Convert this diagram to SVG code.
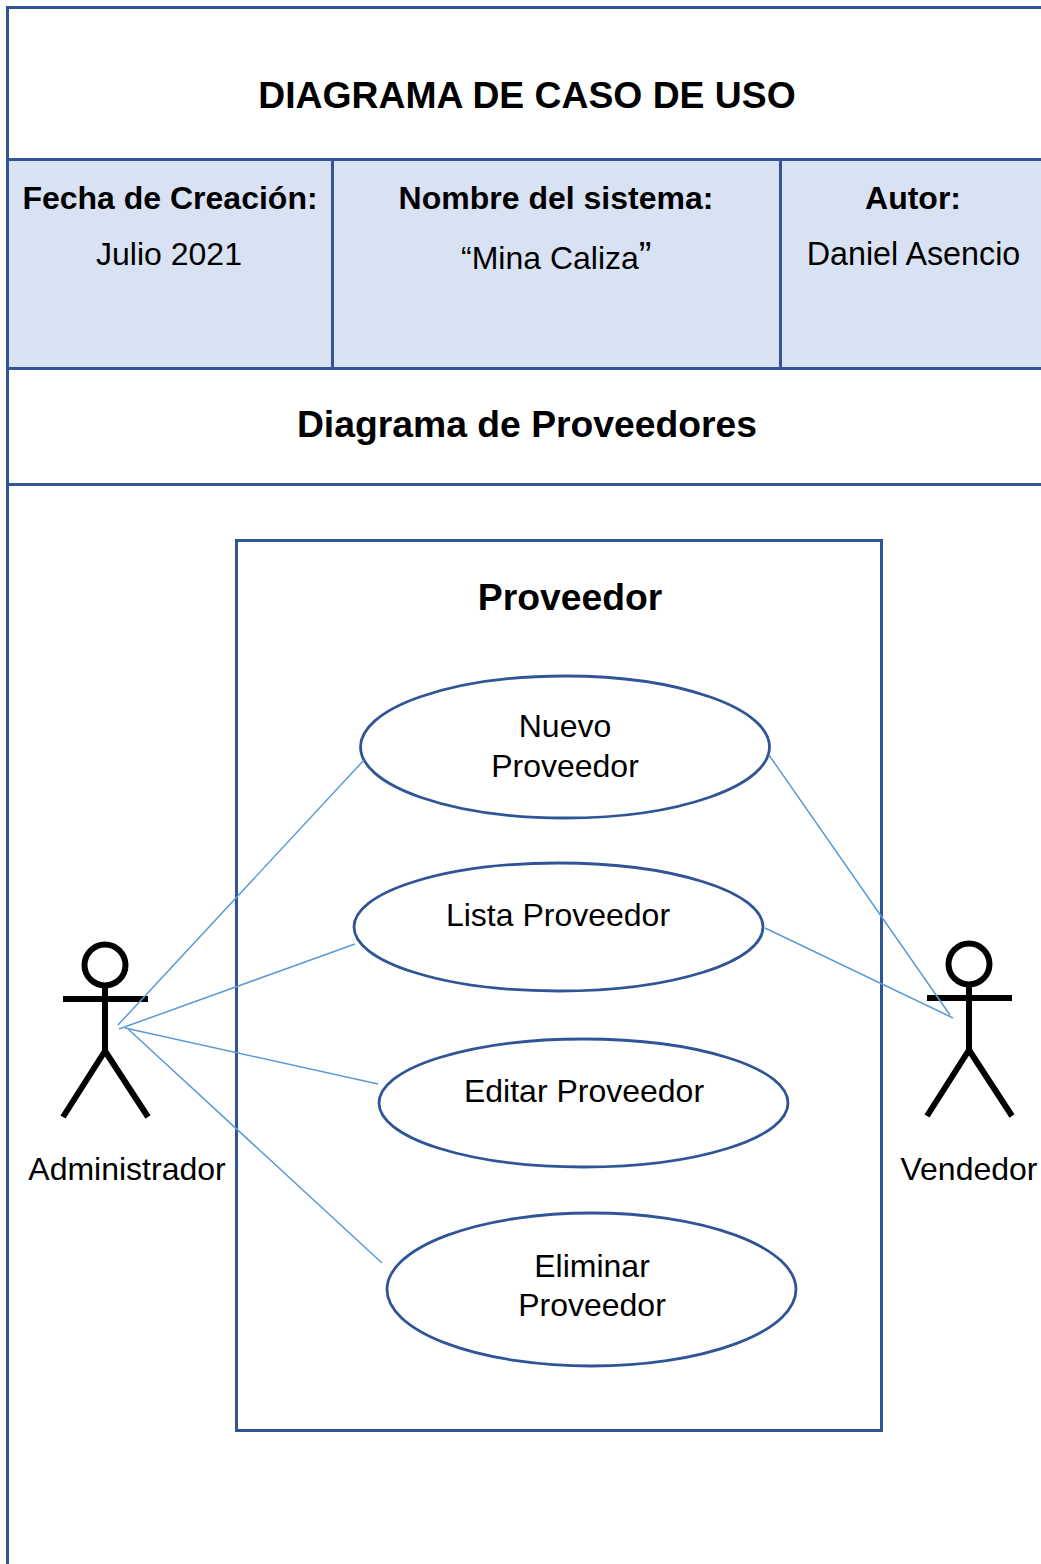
<svg xmlns="http://www.w3.org/2000/svg" width="1041" height="1564" viewBox="0 0 1041 1564">
<style>
text{font-family:"Liberation Sans",Arial,sans-serif;fill:#000;text-anchor:middle}
.t{font-size:32px}
.b{font-weight:700}
.l{font-size:32px}
.h{font-size:37.3px;font-weight:700}
.u{fill:#fff;stroke:#2F5597;stroke-width:2.8}
.g{fill:none;stroke:#2F5597;stroke-width:3}
.c{fill:none;stroke:#5B9BD5;stroke-width:1.5}
.a{fill:none;stroke:#000;stroke-width:6}
</style>
<rect width="1041" height="1564" fill="#fff"/>
<g id="table">
<rect x="8" y="160" width="1033" height="208" fill="#D9E2F3"/>
<path class="g" d="M1041 7.500H7.500V1564M7.500 159.500H1041M7.500 368.500H1041M7.500 484.500H1041M332.500 160V368M780.500 160V368"/>
<text class="h" x="527" y="108">DIAGRAMA DE CASO DE USO</text>
<text class="t b" x="170" y="209">Fecha de Creación:</text>
<text class="t" x="169" y="265">Julio 2021</text>
<text class="t b" x="556" y="209">Nombre del sistema:</text>
<text class="t" x="461" y="269" style="text-anchor:start">“Mina Caliza<tspan font-size="38">”</tspan></text>
<text class="t b" x="913" y="209">Autor:</text>
<text x="913.500" y="265" font-size="32.300">Daniel Asencio</text>
<text class="h" x="527" y="437">Diagrama de Proveedores</text>
</g>
<g id="boundary">
<rect class="g" x="236.500" y="540.500" width="645" height="890"/>
<text class="h" x="570" y="610">Proveedor</text>
</g>
<g id="uc-nuevo">
<ellipse class="u" cx="565" cy="747" rx="204.500" ry="71"/>
<text class="l" x="565" y="737">Nuevo</text>
<text class="l" x="565" y="777">Proveedor</text>
</g>
<g id="uc-lista">
<ellipse class="u" cx="558.500" cy="927" rx="204.500" ry="64"/>
<text class="l" x="558" y="926">Lista Proveedor</text>
</g>
<g id="uc-editar">
<ellipse class="u" cx="583.500" cy="1103" rx="204.500" ry="64"/>
<text class="l" x="584" y="1102">Editar Proveedor</text>
</g>
<g id="uc-eliminar">
<ellipse class="u" cx="591.500" cy="1289.500" rx="204.500" ry="76.500"/>
<text class="l" x="592" y="1277">Eliminar</text>
<text class="l" x="592" y="1316">Proveedor</text>
</g>
<g id="actor-admin">
<circle class="a" cx="105" cy="965" r="20.500"/>
<path class="a" d="M63 999H148M105 986V1051M105 1051L63 1117M105 1051L148 1117"/>
<text class="l" x="127" y="1180">Administrador</text>
</g>
<g id="actor-vendedor">
<circle class="a" cx="969" cy="964" r="20.500"/>
<path class="a" d="M927 998H1012M969 985V1050M969 1050L927 1116M969 1050L1012 1116"/>
<text class="l" x="969" y="1180">Vendedor</text>
</g>
<g id="connectors">
<path class="c" d="M118 1025L364 760M119 1029L355 944M125 1028L378 1084M127 1028L382 1263M769 755L950 1015M765 928L953 1018"/>
</g>
</svg>
